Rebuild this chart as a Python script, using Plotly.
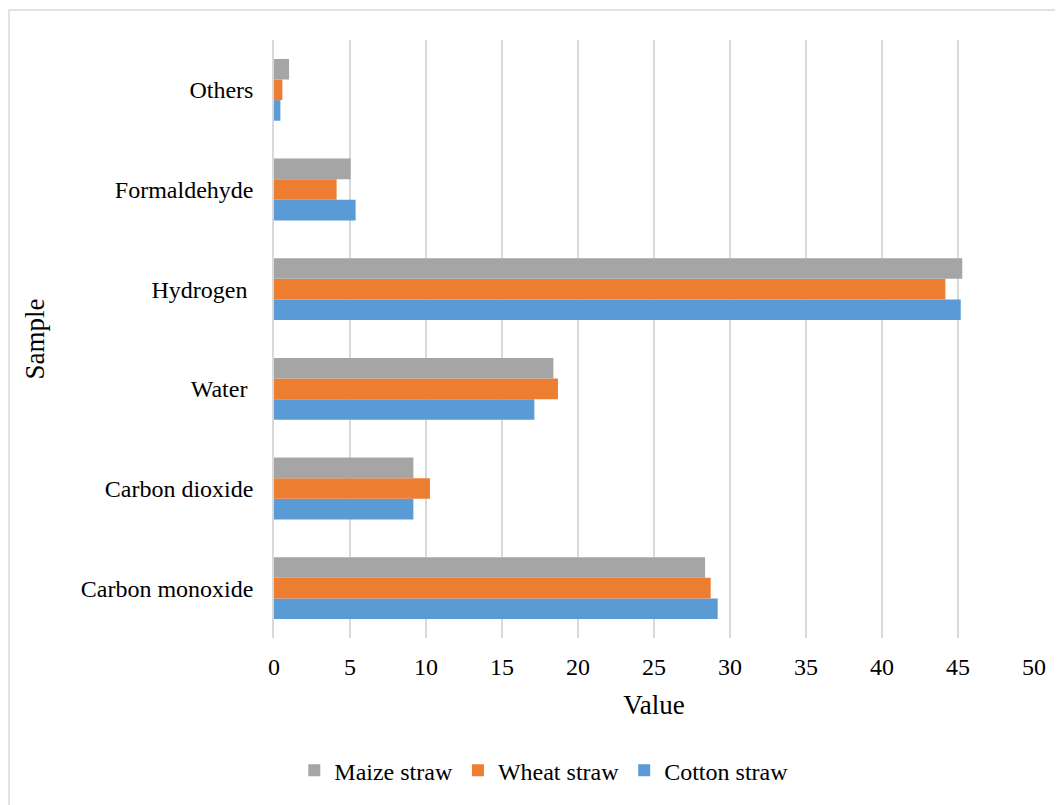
import plotly.graph_objects as go

categories = ["Carbon monoxide", "Carbon dioxide", "Water\u00a0", "Hydrogen\u00a0", "Formaldehyde", "Others"]
cotton = [29.19, 9.17, 17.13, 45.18, 5.37, 0.42]
wheat = [28.73, 10.26, 18.68, 44.17, 4.12, 0.55]
maize = [28.36, 9.17, 18.38, 45.28, 5.04, 0.99]
x_ticks = [0, 5, 10, 15, 20, 25, 30, 35, 40, 45, 50]

FONT = "Liberation Serif, Times New Roman, serif"

fig = go.Figure()
fig.add_trace(go.Bar(y=categories, x=cotton, name="Cotton straw", orientation="h",
                     marker=dict(color="#5B9BD5", line=dict(width=0))))
fig.add_trace(go.Bar(y=categories, x=wheat, name="Wheat straw", orientation="h",
                     marker=dict(color="#ED7D31", line=dict(width=0))))
fig.add_trace(go.Bar(y=categories, x=maize, name="Maize straw", orientation="h",
                     marker=dict(color="#A5A5A5", line=dict(width=0))))

fig.update_layout(
    width=1055, height=797,
    margin=dict(l=266, r=29, t=32, b=165),
    paper_bgcolor="white", plot_bgcolor="white",
    barmode="group", bargap=0.38, bargroupgap=0,
    font=dict(family=FONT, size=24, color="#000000"),
    showlegend=True,
    legend=dict(orientation="h", traceorder="reversed", x=0.355, xanchor="center",
                y=-0.222, yanchor="middle", font=dict(size=24), itemclick=False),
    xaxis=dict(range=[0, 50], tickvals=x_ticks, showgrid=True, gridcolor="#D9D9D9", gridwidth=1.5,
               zeroline=False, showline=False, ticks="", ticklabelstandoff=12,
               title=dict(text="Value", font=dict(size=27), standoff=16),
               tickfont=dict(size=24)),
    yaxis=dict(type="category", categoryorder="array", categoryarray=categories,
               showgrid=False, zeroline=False, showline=True, linecolor="#D9D9D9", linewidth=1.5,
               ticks="", ticklabelstandoff=14, tickfont=dict(size=24),
               title=dict(text="Sample", font=dict(size=27), standoff=28)),
    shapes=[dict(type="rect", xref="paper", yref="paper",
                 x0=(9 - 274) / 760, x1=1.2, y0=-0.6, y1=(640 - 10) / 600,
                 line=dict(color="#D9D9D9", width=1.5), fillcolor="rgba(0,0,0,0)", layer="below")],
)

fig.write_html("out.html")
